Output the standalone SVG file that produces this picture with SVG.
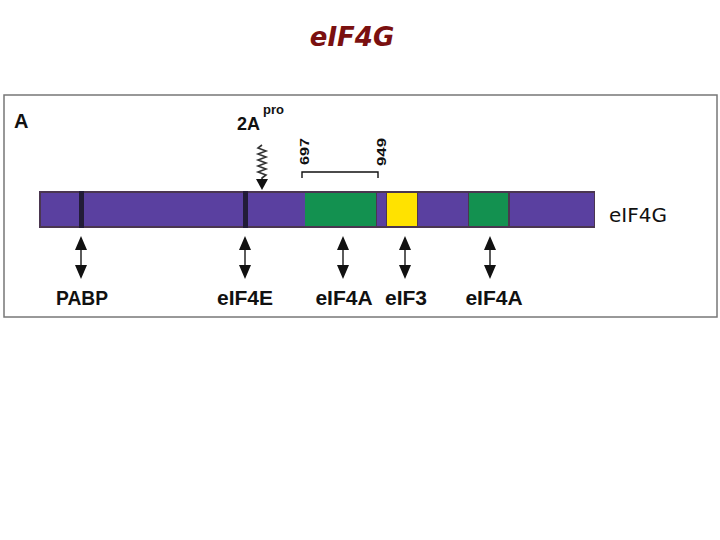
<svg xmlns="http://www.w3.org/2000/svg" width="720" height="540" viewBox="0 0 720 540">
<defs>
<style>
.lbl{font-family:"Liberation Sans",Arial,sans-serif;font-weight:bold;font-size:21px;fill:#111;text-anchor:middle}
.num{font-family:"Liberation Sans",Arial,sans-serif;font-weight:bold;font-size:13px;fill:#111}
.ar{stroke:#333;stroke-width:1.6;fill:none}
.pu{fill:#5a40a0}
.gr{fill:#139150}
.dv{fill:#221c38}
</style>
<path id="dh" d="M0,0 L-6,14 L6,14 z M0,43 L-6,29 L6,29 z" fill="#111"/>
</defs>
<rect width="720" height="540" fill="#fff"/>
<text x="352" y="46" font-family="'DejaVu Sans',Verdana,sans-serif" font-size="26" font-style="italic" font-weight="bold" fill="#7a1010" text-anchor="middle">eIF4G</text>
<rect x="4" y="95" width="713" height="222" fill="#fff" stroke="#777" stroke-width="1.5"/>
<text x="14" y="128" font-family="'Liberation Sans',Arial,sans-serif" font-weight="bold" font-size="20" fill="#111">A</text>
<g id="bar">
<rect x="39" y="191" width="556" height="37" fill="#4a3650"/>
<rect class="pu" x="41" y="193" width="38" height="33"/>
<rect class="dv" x="79" y="191" width="5" height="37"/>
<rect class="pu" x="84" y="193" width="159" height="33"/>
<rect class="dv" x="243" y="191" width="5" height="37"/>
<rect class="pu" x="248" y="193" width="57" height="33"/>
<rect class="gr" x="305" y="193" width="71" height="33"/>
<rect class="pu" x="377" y="193" width="9" height="33"/>
<rect x="387" y="193" width="30" height="33" fill="#ffe200"/>
<rect class="pu" x="418" y="193" width="50" height="33"/>
<rect class="gr" x="469" y="193" width="39" height="33"/>
<rect class="pu" x="510" y="193" width="84" height="33"/>
</g>
<text x="609" y="222" font-family="'DejaVu Sans',Verdana,sans-serif" font-size="20" fill="#111">eIF4G</text>
<g id="cleavage">
<text x="237" y="130" class="lbl" style="text-anchor:start;font-size:18px">2A</text>
<text x="263" y="114" class="num" style="font-size:13px">pro</text>
<polyline class="ar" points="262,145 258,148 266,151 258,154 266,157 258,160 266,163 258,166 266,169 258,172 266,175 262,178 262,182"/>
<path d="M262,190 L256,179 L268,179 z" fill="#111"/>
</g>
<g id="bracket">
<polyline points="302,178 302,172 378,172 378,178" fill="none" stroke="#111" stroke-width="1.4"/>
<text transform="translate(309,165) rotate(-90)" class="num" textLength="27" lengthAdjust="spacingAndGlyphs">697</text>
<text transform="translate(386,166) rotate(-90)" class="num" textLength="28" lengthAdjust="spacingAndGlyphs">949</text>
</g>
<g id="connectors">
<line class="ar" x1="81" y1="245" x2="81" y2="272"/>
<use href="#dh" x="81" y="236"/>
<line class="ar" x1="245" y1="245" x2="245" y2="272"/>
<use href="#dh" x="245" y="236"/>
<line class="ar" x1="343" y1="245" x2="343" y2="272"/>
<use href="#dh" x="343" y="236"/>
<line class="ar" x1="405" y1="245" x2="405" y2="272"/>
<use href="#dh" x="405" y="236"/>
<line class="ar" x1="490" y1="245" x2="490" y2="272"/>
<use href="#dh" x="490" y="236"/>
</g>
<g id="n-pabp"><text x="82" y="305" class="lbl" textLength="52" lengthAdjust="spacingAndGlyphs">PABP</text></g>
<g id="n-eif4e"><text x="245" y="305" class="lbl">eIF4E</text></g>
<g id="n-eif4a1"><text x="344" y="305" class="lbl">eIF4A</text></g>
<g id="n-eif3"><text x="406" y="305" class="lbl">eIF3</text></g>
<g id="n-eif4a2"><text x="494" y="305" class="lbl">eIF4A</text></g>
</svg>
